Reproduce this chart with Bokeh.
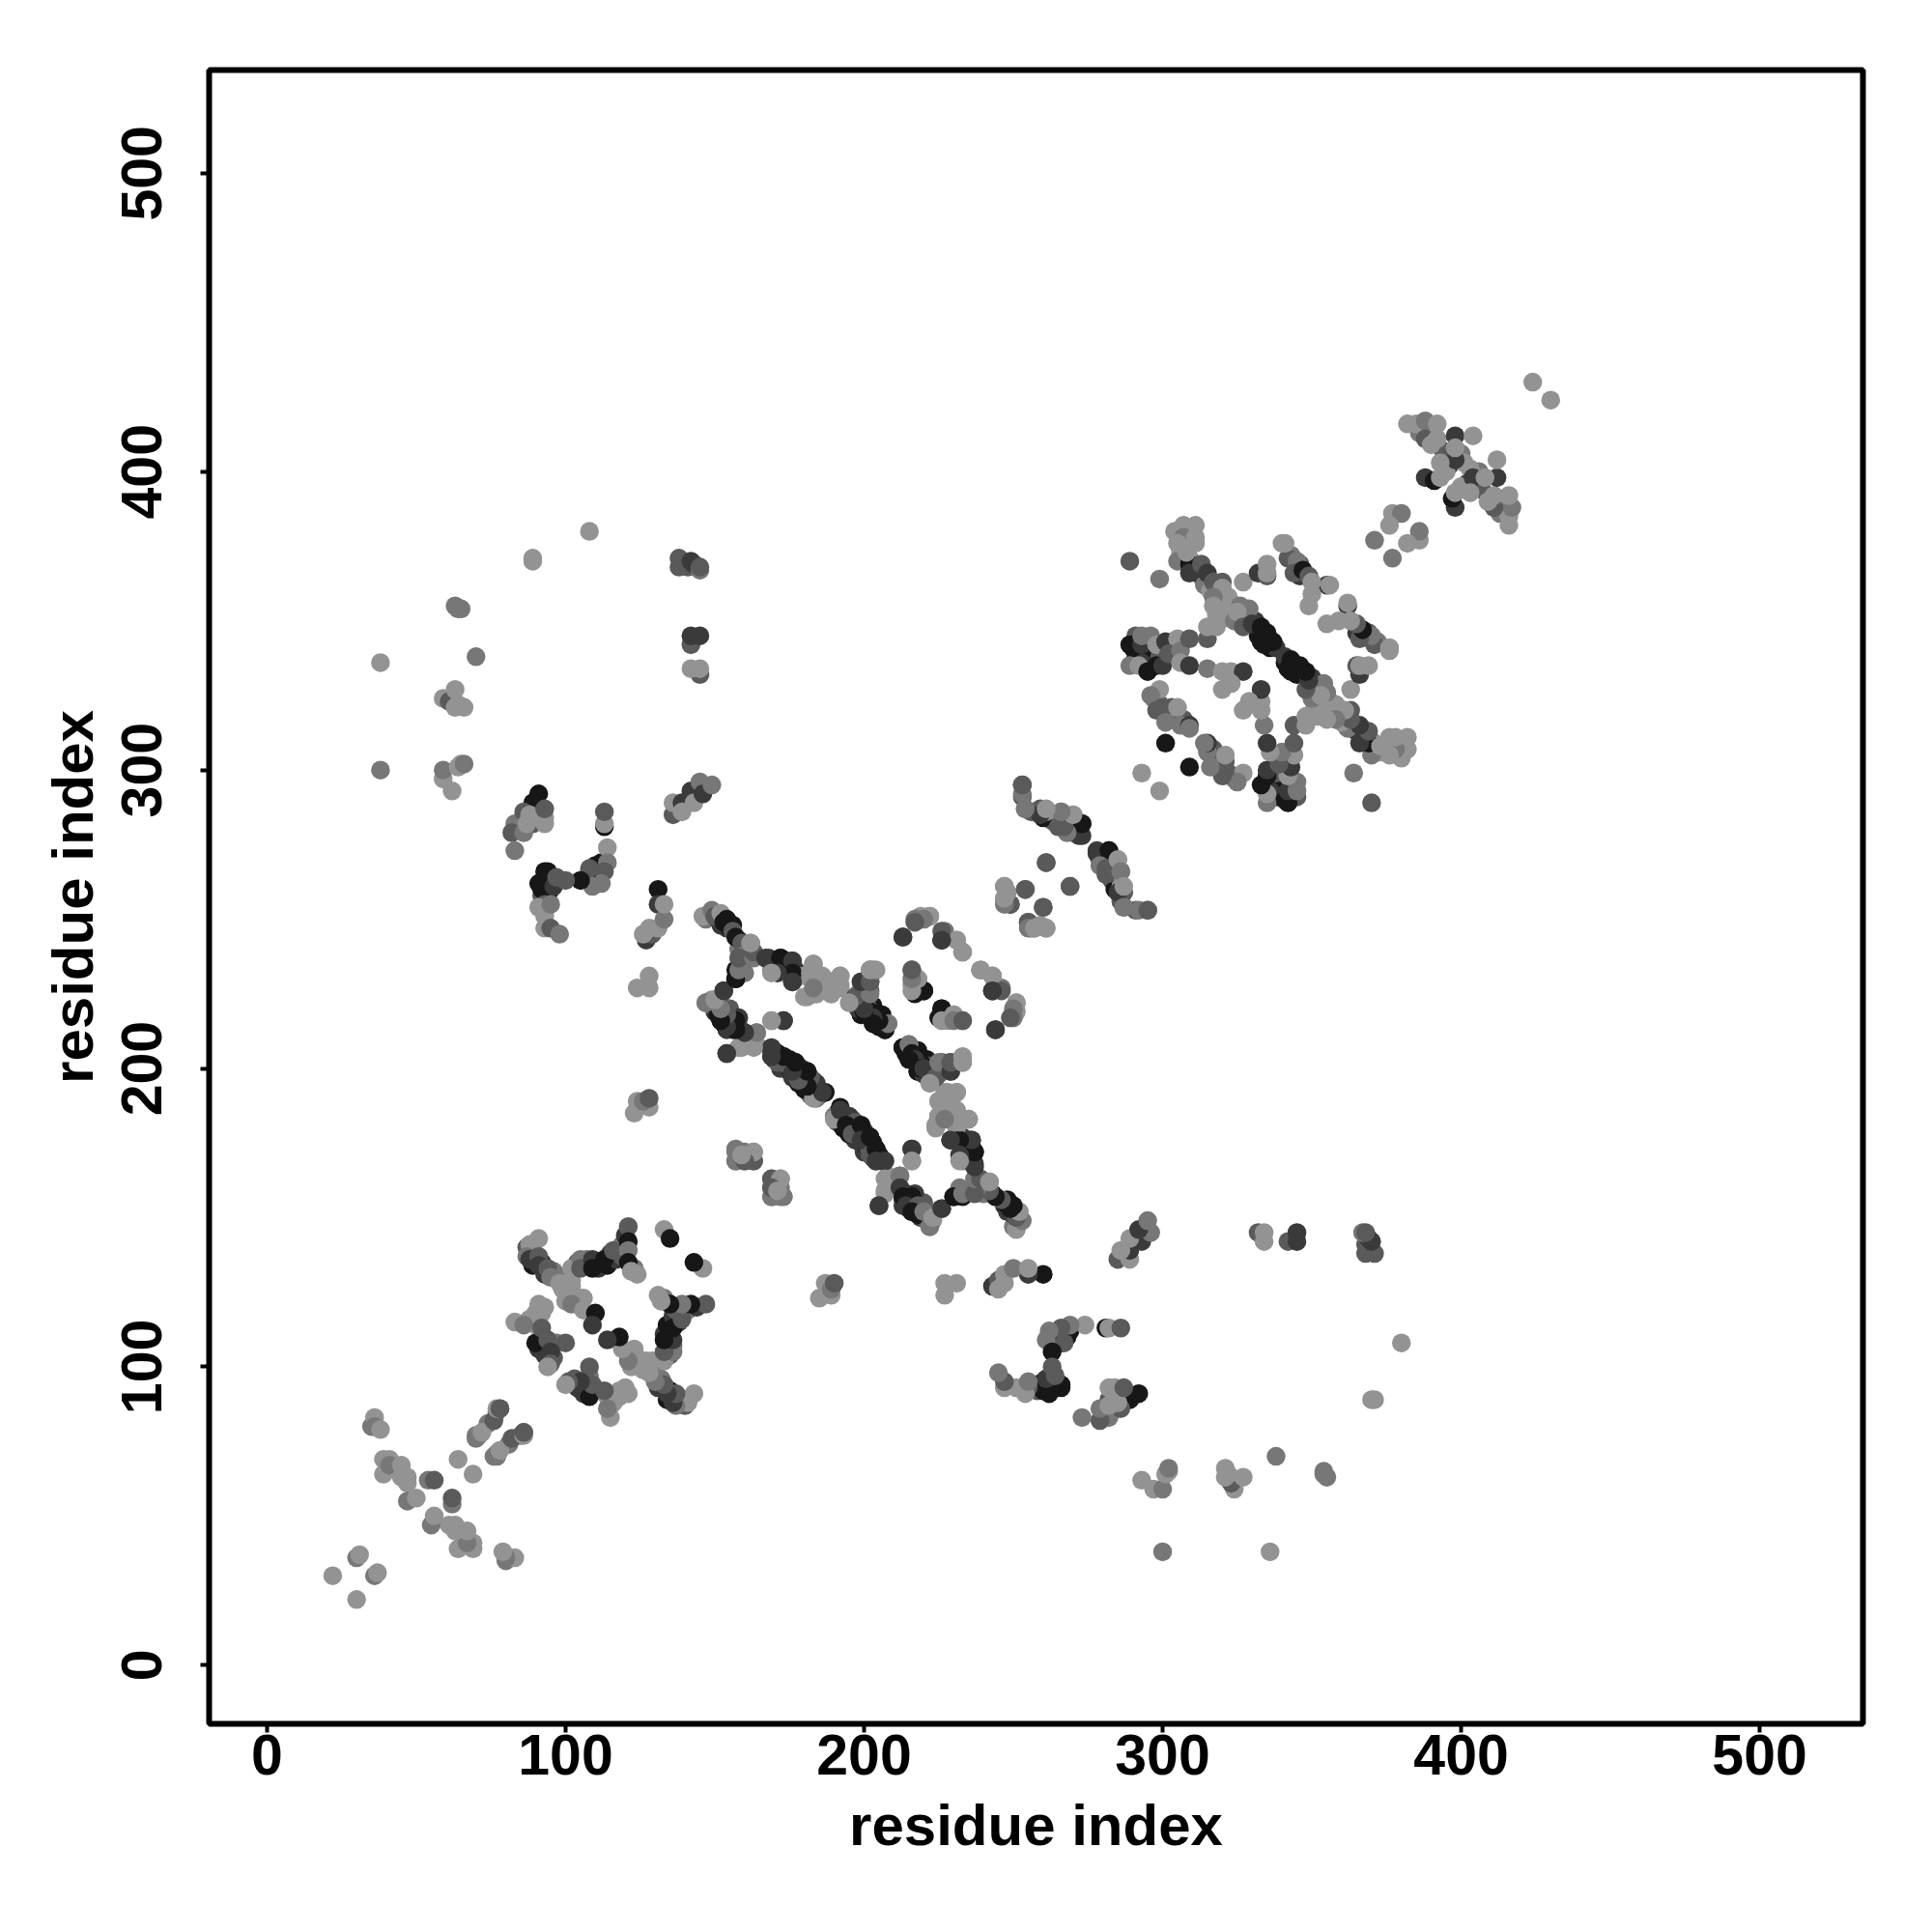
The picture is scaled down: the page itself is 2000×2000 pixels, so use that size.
from bokeh.plotting import figure
from bokeh.models import Range1d, FixedTicker, ColumnDataSource
from bokeh.embed import file_html
from bokeh.resources import INLINE

# (residue i, residue j, strength 0..4); the map is symmetric, only i<j is listed
far_left = [(38,336,0),(38,300,1),(70,338,1),(89,371,0),(89,370,0),(108,380,0),(63,355,1),(64,354,1),(65,354,1),
 (59,324,0),(61,323,2),(63,327,0),(63,321,0),(64,322,0),(66,321,0),(59,297,0),(59,300,1),(62,293,0),(64,301,0),(65,302,0),(66,302,1)]
helix_top = [(138,368,2),(138,371,2),(141,368,2),(142,370,3),(143,369,3),(145,367,1),(145,368,2),
 (142,342,2),(142,345,3),(145,345,3),(145,332,2),(142,334,0),(145,334,0),
 (136,285,2),(136,289,0),(139,289,3),(139,286,0),(142,293,3),(143,289,0),(145,296,1),(146,292,3),(149,295,1)]
arm_left = [(91,292,4),(89,289,4),(83,282,1),(85,283,1),(82,279,2),(86,286,2),(86,279,1),(87,282,0),(88,285,0),(93,282,0),(93,284,0),(93,287,2),(83,273,1),
 (113,281,4),(113,282,0),(113,286,2),(112,269,4),(108,266,4),(108,267,2),(114,274,0),(114,269,1),(113,266,2),(112,262,1),(109,261,1),
 (105,263,4),(93,266,4),(94,266,4),(92,260,4),(95,260,4),(96,261,3),(97,264,2),(100,263,2),(93,255,2),(91,254,0),(93,251,0),(93,247,0),(95,247,2),(95,255,1),(98,245,1),
 (131,260,4),(131,255,3),(127,243,3),(129,245,2),(126,245,0),(128,247,0),(131,247,0),(133,250,1),(133,255,0),
 (128,231,0),(124,227,0),(128,227,0),(123,185,0),(124,189,0),(128,187,0),(126,189,1),(128,190,2)]
strand_a = [(146,251,0),(149,253,1),(150,251,2),(152,252,0),(153,249,4),(154,250,4),(156,246,2),(157,244,4),(159,242,2),(162,242,0),(160,238,1),(163,238,1),
 (168,237,3),(169,233,1),(172,237,4),(172,233,3),(175,232,4),(176,236,3),(176,229,3),
 (180,231,0),(183,235,0),(181,224,0),(184,229,0),(186,231,0),(184,225,0),(189,225,0),(192,231,0),(192,228,0),(187,227,0),
 (202,233,1),(203,233,0),(199,229,3),(202,229,2),(202,226,2),(198,225,1),
 (196,222,0),(198,221,3),(200,220,2),(201,218,4),(202,219,4),(205,217,4),(204,215,4),(207,213,4),(208,215,1)]
strand_b = [(147,222,0),(148,222,1),(149,223,0),(153,226,3),(157,230,4),(157,233,4),(160,232,1),(153,220,2),(151,218,4),(157,216,4),(153,215,4),(156,213,3),(160,212,2),(164,212,1),(159,207,0),(164,208,0),(154,205,3),(169,216,0),(173,216,3),
 (169,206,3),(169,204,3),(173,202,1),(173,204,4),(177,202,4),(176,198,3),(179,199,3),(178,195,4),(183,196,2),(181,193,4),(184,190,1),(187,192,4),
 (190,183,0),(192,186,3),(195,184,3),(197,182,2),(194,181,4),(196,178,2),(199,181,4),(199,176,3),(202,177,4),(202,171,2),(204,173,4),(204,169,3),(207,169,3)]
small_blocks = [(157,172,1),(157,169,1),(160,172,1),(160,169,2),(163,172,0),(163,169,2),
 (169,163,2),(172,163,0),(169,157,1),(173,157,1),(169,160,2),(171,159,0),
 (207,163,0),(207,158,0),(205,154,3),(212,164,1),(212,160,3),(216,173,3),(216,169,0)]
strand_c = [(213,157,4),(216,157,4),(214,154,3),(218,154,2),(216,152,4),(220,152,1),(222,147,1),(223,150,0),(226,153,3),(230,157,4),(233,158,1),(237,158,2),
 (237,163,1),(239,163,2),(242,162,0),(237,167,3),(237,172,4),(236,176,3),(232,176,4),(229,176,3),(232,171,3),(232,169,0),
 (231,192,0),(227,192,0),(225,189,0),(225,184,0),(224,180,0),(231,185,0),(235,183,0),(229,189,0),(232,182,0),(227,183,1),
 (213,207,4),(215,208,1),(216,205,4),(217,203,3),(215,203,4),(219,200,4),(220,200,3),(224,197,2),(222,195,0),(225,202,1),(229,199,3),(229,202,2),(233,204,0),(233,202,0)]
ring = [(251,222,0),(251,219,0),(250,217,1),(244,213,3),(246,227,1),(243,231,0),(243,226,4),(239,233,1),
 (233,239,0),(231,243,0),(226,246,2),(226,243,3),(222,251,0),(220,250,1),(217,249,2),(213,244,3),
 (216,233,1),(218,230,0),(216,228,0),(217,225,4),(220,226,4),(226,220,4),(226,218,4),(226,216,0),(230,218,0),(230,216,1),(233,216,2),
 (249,255,2),(247,256,1),(247,261,0),(247,257,0),(254,260,1),(255,249,2),(255,247,1),(257,247,0),(259,248,0),(260,254,2),(261,247,0)]
after_ring = [(253,295,2),(253,291,2),(254,287,1),(259,287,2),(260,284,4),(261,286,0),(266,286,1),(266,282,1),(269,284,4),(269,280,0),(270,285,0),(273,278,3),(273,282,4),
 (278,272,3),(282,273,4),(279,268,1),(281,265,2),(281,267,2),(285,270,0),(286,266,1),(285,259,3),(287,261,0),(287,254,1),(292,253,1),(295,253,2),(261,269,2),(269,261,2)]
bottom_cross = [(22,30,0),(30,36,1),(31,37,0),(35,80,1),(36,83,0),(36,80,1),(38,79,0),
 (39,69,0),(41,69,0),(39,64,0),(41,67,1),(45,67,0),(45,63,0),(47,63,0),(47,61,0),(54,62,1),(56,62,2),(47,55,1),(50,56,0),(64,69,0),
 (70,77,1),(71,77,0),(74,81,1),(78,86,2),(77,85,1),(76,70,1),(78,72,0),(82,76,2),(86,77,0),(86,78,2)]
lower_cluster = [(91,143,0),(88,141,0),(87,137,1),(88,136,3),(91,137,2),(91,134,3),(94,133,2),(95,130,1),(98,128,0),(102,127,0),(102,133,0),
 (105,136,1),(105,133,2),(109,136,3),(109,133,4),(113,136,4),(116,139,2),(121,147,2),(121,142,4),(121,139,1),(121,135,4),(124,131,0),(122,132,0),
 (133,146,0),(135,143,4),(100,122,0),(106,123,0),(102,121,1),(106,119,0),(110,118,4),(109,114,3),
 (91,121,0),(92,118,0),(88,116,0),(83,115,0),(86,114,1),(90,108,4),(92,113,2),(94,109,2),(100,108,2),(95,105,3),(95,101,2),(94,100,0)]
upper_cluster = [(289,370,2),(299,364,1),(304,380,0),(307,382,0),(311,382,0),(307,378,1),(311,378,0),(305,376,0),(311,376,0),(305,370,1),(309,369,4),(309,366,3),(308,373,0),
 (313,369,2),(315,366,3),(317,363,2),(320,363,2),(320,361,0),(317,358,1),(317,355,0),(323,356,0),(327,363,0),(326,355,1),(329,354,1),(325,353,0),(327,348,2),(330,349,3),(333,348,4),(335,346,4),(337,343,4),(334,342,4),
 (332,366,3),(335,365,2),(335,369,0),(335,366,0),(342,371,2),(345,370,1),(344,366,2),(347,367,4),(349,365,2),(355,362,3),(340,376,0),(341,376,0),(350,363,0),(356,362,0),(350,359,0),(349,355,0),
 (289,342,4),(293,342,3),(293,345,1),(296,345,1),(289,335,1),(292,335,0),(295,333,4),(298,335,4),(300,335,3),(298,342,0),(301,343,3),(305,344,0),(302,339,2),(306,340,1),(306,336,0),(309,335,3),(309,344,2),(315,344,2),(315,348,0),(318,348,0),
 (315,334,1),(320,333,0),(323,333,0),(327,333,3),(320,327,0),(323,329,0),
 (299,327,0),(296,325,1),(300,321,2),(305,321,0),(298,320,2),(301,316,1),(306,315,1),(309,315,3),(301,309,4),(293,299,0),(309,314,1)]
top_tail = [(382,416,0),(385,416,0),(388,417,1),(392,416,0),(388,411,2),(390,409,0),(392,411,0),(398,412,3),(404,412,0),(398,404,3),(398,408,0),(393,403,0),(388,398,3),(391,397,4),(393,398,0),
 (377,386,0),(380,386,1),(376,382,0),(371,377,1),(424,430,0)]

under_strands = [(147,250,1),(151,250,3),(152,248,3),(154,247,3),(155,247,4),(156,248,4),(158,243,3),(160,240,2),(158,240,1),
 (170,235,3),(171,234,4),(174,234,3),(174,236,4),(177,233,3),
 (197,224,2),(199,222,4),(200,223,3),(203,221,4),(204,217,3),(206,215,3),(203,216,4),(200,219,3),(199,218,4),(206,218,4),
 (150,221,2),(152,218,4),(154,217,4),(155,215,4),(152,216,4),(154,213,3),(156,215,3),(158,214,3),(155,220,2),(158,217,3),
 (171,205,3),(171,203,4),(175,202,4),(175,199,4),(177,200,3),(178,198,4),(180,197,3),(180,195,4),(182,194,4),(184,194,2),(185,192,2),(183,192,1),(172,200,3),
 (191,185,3),(191,182,2),(193,183,3),(193,180,4),(195,181,2),(197,179,3),(197,176,3),(200,179,3),(200,175,4),(201,174,3),(203,175,4),(203,170,3),(205,171,4),
 (214,156,3),(215,155,4),(217,155,3),(218,152,4),(219,150,3),(220,154,2),(221,149,2),(222,152,1),
 (214,205,4),(216,203,4),(218,202,3),(218,199,4),(220,198,3),(221,201,2),(222,199,3)]
under_clusters = [(89,139,2),(87,140,2),(89,134,4),(90,136,3),(92,135,4),(93,131,3),(93,133,3),(96,132,1),(97,130,1),(99,126,0),(101,125,0),(103,124,0),(102,129,0),(104,135,2),(107,134,3),(107,136,1),(111,135,4),(111,133,3),(114,134,4),(115,138,3),(117,136,3),(119,137,2),(119,141,1),(123,133,1),(120,144,3),
 (91,106,3),(93,104,3),(97,108,1),(96,103,2),(87,115,1),(90,114,0),(90,118,0),(93,120,0),
 (327,352,1),(329,351,2),(331,350,3),(332,345,4),(335,344,4),(337,342,4),(333,343,4),(336,341,4),(338,341,3),
 (291,338,3),(294,338,4),(296,337,4),(297,335,4),(293,336,3),(299,338,2),(303,341,2),(343,372,1),(345,368,3),(346,365,3),(346,369,2),
 (309,371,0),(306,373,0),(312,367,3),(313,365,3),(314,362,1),(316,360,0),(319,358,0),(322,354,0),(322,358,0),(318,352,0),(321,351,0),(324,350,1),
 (297,324,1),(299,322,2),(301,319,2),(303,318,1),(303,321,2),(305,317,1),(307,317,2),(291,345,2),(292,343,4),(290,341,4)]
under_arms = [(90,284,1),(89,282,2),(84,280,0),(93,263,4),(91,262,4),(94,258,3),(92,258,2),(111,267,3),(110,263,2),(110,268,4),
 (256,286,2),(263,284,2),(264,285,0),(271,280,4),(271,283,2),(283,270,3),(284,268,2),(283,263,2),(285,262,0),(279,270,3),(281,271,4),
 (386,413,1),(390,414,0),(394,407,2),(396,402,3),(395,400,0),(400,406,1),(401,403,0)]

clusters = [under_strands, under_clusters, under_arms, far_left, helix_top, arm_left, strand_a, strand_b, small_blocks,
            strand_c, ring, after_ring, bottom_cross, lower_cluster, upper_cluster, top_tail]

tick_values = [0, 100, 200, 300, 400, 500]
axis_title = "residue index"
shades = ["#939393", "#777777", "#5a5a5a", "#3a3a3a", "#171717"]

xs, ys, cs = [], [], []
for cluster in clusters:
    for i, j, s in cluster:
        xs += [i, j]
        ys += [j, i]
        cs += [shades[s], shades[s]]
source = ColumnDataSource(dict(x=xs, y=ys, c=cs))

p = figure(frame_width=1712, frame_height=1712, output_backend="svg", toolbar_location=None,
           x_range=Range1d(-19.4, 534.6), y_range=Range1d(-19.65, 534.6),
           min_border_left=216, min_border_top=72, min_border_right=40, min_border_bottom=180,
           background_fill_color="white", border_fill_color="white")
p.grid.visible = False
p.outline_line_color = "black"
p.outline_line_width = 6
p.scatter("x", "y", source=source, size=19.5, fill_color="c", line_color=None, marker="circle")

for ax in (p.xaxis[0], p.yaxis[0]):
    ax.ticker = FixedTicker(ticks=tick_values)
    ax.axis_label = axis_title
    ax.axis_line_color = None
    ax.major_tick_line_color = "black"
    ax.major_tick_line_width = 4
    ax.major_tick_out = 9
    ax.major_tick_in = 0
    ax.minor_tick_line_color = None
    ax.major_label_text_font = "Liberation Sans"
    ax.major_label_text_font_style = "bold"
    ax.major_label_text_font_size = "59px"
    ax.major_label_text_color = "black"
    ax.axis_label_text_font = "Liberation Sans"
    ax.axis_label_text_font_style = "bold"
    ax.axis_label_text_font_size = "60px"
    ax.axis_label_text_color = "black"
p.yaxis[0].major_label_orientation = "vertical"
p.xaxis[0].major_label_standoff = 2
p.yaxis[0].major_label_standoff = 40
p.xaxis[0].axis_label_standoff = 16
p.yaxis[0].axis_label_standoff = 15

open("out.html", "w").write(file_html(p, INLINE))
